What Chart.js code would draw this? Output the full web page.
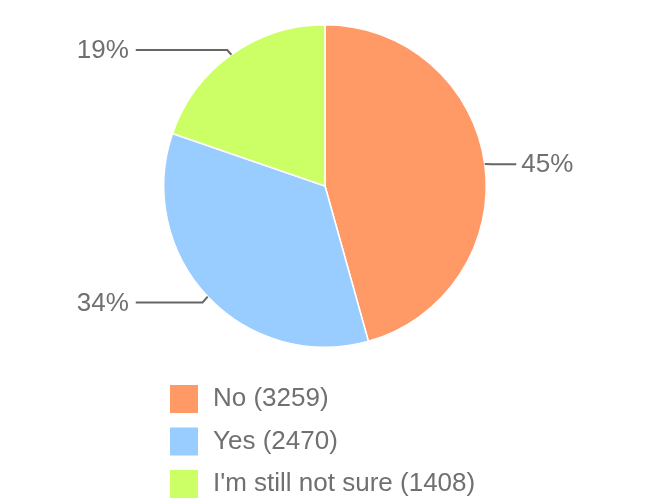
<!DOCTYPE html>
<html>
<head>
<meta charset="utf-8">
<script src="https://cdn.jsdelivr.net/npm/chart.js@4/dist/chart.umd.min.js"></script>
<style>
  html, body { margin: 0; padding: 0; background: #fff; }
  #wrap { width: 650px; height: 499px; }
</style>
</head>
<body>
<div id="wrap"><canvas id="pie"></canvas></div>
<script>
const labels = ['No', 'Yes', "I'm still not sure"]
const counts = [3259, 2470, 1408]
const colors = ['#ff9966', '#99ccff', '#ccff66']

const textColor = '#707070'
const font = '26px "Liberation Sans", Arial, sans-serif'

// percentage labels with leader lines
const leaders = {
    id: 'leaders',
    afterDatasetsDraw(chart) {
        const ctx = chart.ctx
        const meta = chart.getDatasetMeta(0)
        const total = counts.reduce((a, b) => a + b, 0)
        ctx.save()
        ctx.font = font
        ctx.textBaseline = 'middle'
        meta.data.forEach((arc, i) => {
            const p = arc.getProps(['x', 'y', 'startAngle', 'endAngle', 'outerRadius'], true)
            const mid = (p.startAngle + p.endAngle) / 2
            const r = p.outerRadius
            const ex = p.x + Math.cos(mid) * r, ey = p.y + Math.sin(mid) * r
            const bx = p.x + Math.cos(mid) * (r + 7), by = p.y + Math.sin(mid) * (r + 7) + 1
            const right = Math.cos(mid) >= 0
            const hx = right ? p.x + r + 30 : p.x - r - 28
            ctx.strokeStyle = '#666'
            ctx.lineWidth = 2
            ctx.beginPath()
            ctx.moveTo(ex, ey)
            ctx.lineTo(bx, by)
            ctx.lineTo(hx, by)
            ctx.stroke()
            ctx.fillStyle = textColor
            ctx.textAlign = right ? 'left' : 'right'
            const pct = Math.floor(counts[i] / total * 100) + '%'
            ctx.fillText(pct, right ? hx + 5 : hx - 7, by + 1)
        })
        ctx.restore()
    }
}

// vertical legend under the pie
const legendBox = {
    id: 'legendBox',
    afterDraw(chart) {
        const ctx = chart.ctx
        const top = chart.chartArea.bottom + 37
        ctx.save()
        ctx.font = font
        ctx.textBaseline = 'middle'
        ctx.textAlign = 'left'
        labels.forEach((l, i) => {
            const y = top + i * 42.5
            ctx.fillStyle = colors[i]
            ctx.fillRect(170, y, 28, 28)
            ctx.fillStyle = textColor
            ctx.fillText(l + ' (' + counts[i] + ')', 213, y + 14)
        })
        ctx.restore()
    }
}

new Chart(document.getElementById('pie'), {
    type: 'pie',
    data: {
        labels: labels,
        datasets: [{
            data: counts,
            backgroundColor: colors,
            borderColor: '#ffffff',
            borderWidth: 1.5
        }]
    },
    options: {
        responsive: true,
        maintainAspectRatio: false,
        animation: false,
        layout: {
            padding: { top: 24, bottom: 151 }
        },
        plugins: {
            legend: { display: false },
            tooltip: { enabled: false }
        }
    },
    plugins: [leaders, legendBox]
})
</script>
</body>
</html>
